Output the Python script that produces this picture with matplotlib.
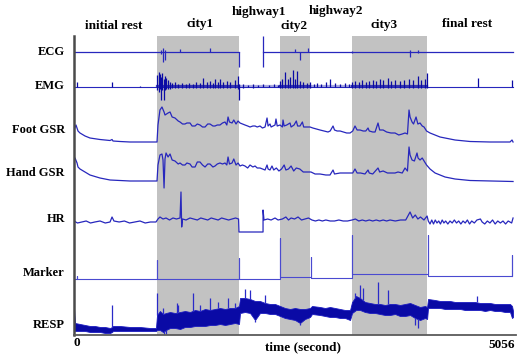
import numpy as np
import matplotlib
matplotlib.use("Agg")
import matplotlib.pyplot as plt

# ---------------- data (time in seconds, amplitudes in arbitrary units) -------------
t_end = 5056
phases = ["initial rest", "city1", "highway1", "city2", "highway2", "city3", "final rest"]
city_spans = [(956, 1900), (2373, 2718), (3202, 4066)]
channels = ["ECG", "EMG", "Foot GSR", "Hand GSR", "HR", "Marker", "RESP"]

# ECG: flat trace (missing between 1900 and 2177) plus spikes (time, low, high)
ecg_segments = [(0, 1900), (2177, 5056)]
ecg_spk_t = [1002, 1025, 1048, 1221, 1566, 1900, 2177, 2545, 2603, 2695, 3202, 3870, 3962]
ecg_spk_lo = [-2, -10, -8, 0, 0, -15, -15, 0, -8, 0, -1, -5, -1]
ecg_spk_hi = [2, 4, 2, 3, 4, 0, 16, 3, 0, 4, 1, 2, 2]

# EMG: baseline plus bursts (time, high, low)
emg_spk_t = [35, 438, 760,
             960, 975, 990, 1002, 1013, 1037, 1048, 1060, 1083, 1106, 1130, 1163, 1200, 1240,
             1290, 1330, 1370, 1410, 1451, 1486, 1530, 1566, 1600, 1624, 1660, 1681, 1720,
             1760, 1800, 1854, 1889, 1900,
             1950, 2000, 2060, 2120, 2180, 2240, 2300, 2350,
             2373, 2400, 2430, 2460, 2488, 2522, 2545, 2568, 2600, 2640, 2680, 2718,
             2760, 2800, 2850, 2900, 2948, 3000, 3060, 3120, 3170,
             3202, 3240, 3280, 3320, 3360, 3400, 3440, 3480, 3520, 3560, 3616, 3650, 3700,
             3750, 3800, 3858, 3900, 3962, 4000, 4042, 4066,
             4653, 5044]
emg_spk_hi = [5, 5, 1,
              12, 15, 13, 10, 14, 8, 11, 9, 7, 5, 4, 5, 3, 4,
              3, 4, 3, 5, 4, 9, 5, 6, 4, 8, 5, 8, 5,
              6, 5, 7, 11, 3,
              3, 2, 3, 2, 3, 2, 3, 2,
              6, 8, 15, 8, 10, 17, 8, 16, 6, 5, 4, 5,
              3, 4, 3, 5, 8, 4, 3, 4, 3,
              5, 6, 5, 7, 5, 6, 7, 6, 8, 7, 9, 6, 7,
              6, 7, 8, 7, 11, 7, 8, 14,
              9, 7]
emg_spk_lo = [0, 0, 0,
              -3, -5, -2, -13, -3, -13, -3, -2, -2, -2, -1, -1, -1, -1,
              -1, -1, -1, -1, -1, -1, -1, -1, -1, -1, -1, -1, -1,
              -1, -1, -1, -2, -13,
              -1, 0, -1, 0, 0, 0, 0, 0,
              -1, -1, -1, -1, -1, -1, -1, -1, -1, -1, -1, -1,
              0, 0, 0, 0, 0, 0, 0, 0, 0,
              -1, -1, -1, -1, -1, -1, -1, -1, -1, -1, -1, -1, -1,
              -1, -1, -1, -1, -1, -1, -1, -1,
              0, 0]

# Foot GSR
foot_t = [0, 23, 46, 69, 127, 184, 299, 415, 438, 449, 530, 645, 760, 944,
          956, 967, 990, 1013, 1037, 1048, 1083, 1106, 1130, 1163, 1200, 1221, 1250, 1278,
          1300, 1336, 1360, 1394, 1420, 1451, 1480, 1509, 1540, 1566, 1600, 1624, 1650,
          1681, 1710, 1739, 1760, 1774, 1790, 1820, 1840, 1866, 1889, 1912, 1940, 1969,
          2000, 2027, 2060, 2085, 2110, 2142, 2170, 2200, 2223, 2235, 2257, 2270, 2315,
          2326, 2340, 2373, 2400, 2407, 2420, 2450, 2488, 2500, 2534, 2560, 2575, 2603,
          2630, 2645, 2680, 2718, 2750, 2790, 2833, 2880, 2925, 2950, 2983, 3000, 3030,
          3064, 3100, 3140, 3179, 3210, 3236, 3260, 3294, 3330, 3360, 3386, 3400, 3440,
          3467, 3501, 3520, 3560, 3600, 3650, 3697, 3740, 3780, 3812, 3840, 3858, 3870,
          3893, 3910, 3939, 3960, 3985, 4010, 4031, 4060, 4100, 4158, 4215, 4273, 4330,
          4388, 4503, 4561, 4791, 5021, 5044, 5056]
foot_v = [15, 20, 14, 12, 9, 7, 5.5, 4.5, 5.5, 4, 3.5, 3, 3, 3,
          3, 20, 35, 38, 33, 30, 32, 33, 28, 27, 24, 23, 21, 21,
          22, 22, 19, 19, 21, 20, 18, 18, 21, 21, 19, 19, 20,
          20, 22, 23, 20, 28, 23, 22, 25, 21, 24, 22, 21, 20,
          19, 18, 19, 19, 18, 19, 17, 18, 27, 19, 21, 18, 20,
          26, 19, 20, 18, 25, 19, 20, 22, 18, 20, 24, 19, 19,
          23, 18, 18, 18, 17, 16, 15, 14, 13, 14, 19, 15, 14,
          14, 13, 12, 12, 14, 19, 15, 15, 14, 14, 17, 14, 13,
          13, 22, 15, 15, 13, 12, 12, 10, 11, 12, 11, 35, 28,
          23, 21, 28, 21, 22, 19, 18, 14, 12, 10, 8, 7, 6,
          5, 4, 3.5, 3, 3, 5, 3]

# Hand GSR
hand_t = [0, 12, 35, 46, 69, 127, 184, 299, 415, 530, 645, 760, 944,
          956, 967, 990, 1013, 1025, 1037, 1048, 1060, 1083, 1106, 1130, 1163, 1200, 1221,
          1250, 1278, 1300, 1336, 1360, 1394, 1420, 1451, 1480, 1509, 1540, 1566, 1600,
          1624, 1650, 1681, 1710, 1739, 1760, 1774, 1790, 1820, 1840, 1866, 1889, 1912,
          1940, 1969, 2000, 2027, 2060, 2085, 2110, 2142, 2170, 2200, 2223, 2235, 2257,
          2280, 2300, 2330, 2360, 2390, 2420, 2440, 2470, 2500, 2530, 2560, 2600, 2640,
          2690, 2729, 2776, 2833, 2900, 2948, 2983, 3000, 3064, 3120, 3179, 3210, 3236,
          3260, 3300, 3351, 3386, 3400, 3440, 3501, 3520, 3560, 3610, 3650, 3697, 3731,
          3780, 3812, 3840, 3858, 3870, 3893, 3920, 3950, 3962, 3985, 4010, 4031, 4060,
          4100, 4158, 4215, 4273, 4330, 4388, 4503, 4561, 4791, 5056]
hand_v = [22, 27, 22, 18, 16, 13, 10, 7, 5, 4.5, 4, 4, 4,
          4, 20, 30, 31, 25, -3, 26, 32, 28, 31, 25, 24, 21, 22,
          20, 20, 22, 21, 18, 18, 23, 23, 20, 18, 21, 21, 18,
          19, 21, 22, 21, 22, 20, 28, 21, 22, 26, 20, 22, 19,
          20, 19, 17, 20, 18, 19, 17, 17, 16, 15, 20, 16, 15,
          19, 15, 17, 14, 16, 20, 15, 16, 19, 14, 17, 16, 13,
          13, 13, 11, 11, 10, 10, 15, 11, 12, 12, 12, 12, 16,
          12, 12, 11, 15, 12, 11, 17, 13, 14, 12, 12, 12, 13,
          12, 17, 14, 38, 30, 25, 24, 32, 27, 25, 27, 24, 20,
          16, 12, 10, 8, 7, 6, 5, 4.5, 4, 3.5]

# HR
hr_t = [0, 40, 90, 140, 190, 240, 300, 360, 415, 438, 460, 520, 580, 640, 700, 760, 820,
        880, 944, 967, 990, 1025, 1060, 1100, 1140, 1180, 1221, 1232, 1240, 1250, 1290,
        1336, 1380, 1420, 1460, 1500, 1540, 1580, 1620, 1660, 1700, 1740, 1780, 1820,
        1860, 1895, 1900, 2177, 2177, 2188, 2230, 2270, 2315, 2350, 2400, 2440, 2470,
        2500, 2540, 2580, 2620, 2660, 2700, 2740, 2780, 2820, 2860, 2900, 2950, 3000,
        3050, 3100, 3150, 3202, 3240, 3280, 3320, 3360, 3400, 3440, 3480, 3520, 3560,
        3600, 3640, 3700, 3760, 3820, 3870, 3900, 3930, 3960, 3990, 4030, 4066, 4080,
        4100, 4120, 4140, 4160, 4180, 4200, 4220, 4240, 4260, 4280, 4305, 4330, 4355,
        4380, 4405, 4430, 4455, 4480, 4505, 4530, 4555, 4580, 4610, 4640, 4680, 4700,
        4730, 4760, 4790, 4820, 4850, 4880, 4910, 4940, 4970, 5000, 5040, 5056]
hr_v = [1, -1, 0, 1, -1, 0, 1, -1, 0, 5, 1, 0, 1, -1, 0, 1, -1,
        0, 0, 3, 5, 3, 4, 2, 4, 3, 4, 30, -5, 3, 2,
        4, 3, 2, 4, 3, 2, 4, 3, 2, 4, 3, 2, 3,
        4, 3, -10, -10, 12, 2, 3, 2, 4, 2, 3, 5, 2,
        4, 3, 5, 2, 3, 4, 2, 1, 2, 1, 2, 1, 1,
        2, 1, 1, 2, 3, 1, 2, 1, 2, 1, 2, 1, 2,
        1, 2, 1, 2, 2, 10, 4, 7, 3, 5, 2, 6, 1,
        -2, 2, -2, 2, -1, 1, -2, 2, -1, 1, -2, 1, -1,
        2, -1, 1, -2, 1, -1, 2, -2, 1, -1, 2, 3, 0,
        -2, 1, -1, 2, -2, 1, -1, 1, -2, 1, -1, 4]

# Marker
marker_t = [0, 35, 35, 35, 956, 956, 956, 1900, 1900, 1900, 2373, 2373, 2373, 2729, 2729,
            2729, 3202, 3202, 3202, 4077, 4077, 4077, 5044, 5044, 5044]
marker_v = [0, 0, 3, 0, 0, 19, 0, 0, 21, 0, 0, 41, 2, 2, 22,
            1, 1, 44, 5, 5, 44, 3, 3, 24, 3]

# RESP: envelope of the respiration trace plus isolated peaks
resp_t = [0, 12, 69, 127, 184, 241, 299, 357, 415, 438, 449, 530, 645, 760, 875, 944,
          956, 990, 1025, 1060, 1106, 1163, 1221, 1278, 1336, 1394, 1451, 1509, 1566, 1624,
          1681, 1739, 1797, 1854, 1900, 1912, 1969, 2027, 2085, 2142, 2200, 2257, 2315,
          2373, 2430, 2488, 2545, 2603, 2660, 2718, 2741, 2833, 2891, 2948, 3006, 3064,
          3121, 3179, 3202, 3248, 3294, 3351, 3409, 3467, 3524, 3582, 3639, 3697, 3754,
          3812, 3870, 3927, 3985, 4042, 4066, 4077, 4158, 4215, 4273, 4330, 4388, 4446,
          4503, 4561, 4618, 4676, 4733, 4791, 4848, 4906, 4963, 5021, 5044, 5056]
resp_hi = [27, 12, 11, 10, 9, 9, 8, 8, 7, 8, 9, 9, 8, 8, 7, 7,
           20, 24, 21, 22, 23, 22, 23, 24, 23, 25, 24, 26, 25, 26,
           27, 26, 27, 27, 29, 37, 37, 36, 34, 34, 32, 31, 31,
           29, 27, 26, 27, 26, 26, 27, 29, 28, 27, 28, 27, 26,
           25, 25, 33, 39, 37, 33, 32, 31, 31, 30, 31, 31, 30,
           31, 32, 30, 28, 29, 28, 36, 35, 34, 34, 34, 33, 33,
           33, 33, 33, 32, 32, 32, 31, 31, 31, 31, 29, 24]
resp_lo = [5, 4, 4, 4, 3, 3, 3, 2, 2, 3, 4, 4, 4, 4, 4, 4,
           5, 5, 3, 5, 7, 7, 6, 8, 8, 9, 9, 9, 10, 10,
           11, 10, 11, 12, 11, 22, 23, 22, 15, 22, 22, 21, 21,
           19, 17, 16, 15, 12, 16, 18, 21, 20, 19, 18, 18, 17,
           17, 15, 22, 25, 25, 23, 22, 22, 21, 20, 20, 21, 19,
           19, 20, 17, 15, 17, 16, 27, 27, 27, 26, 26, 26, 26,
           25, 25, 25, 25, 24, 25, 24, 24, 23, 23, 17, 18]
resp_pk_t = [438, 956, 1025, 1186, 1200, 1371, 1451, 1566, 1658, 1774, 1854, 1969, 2027,
             2200, 3236, 3294, 3328, 3501, 3616, 4641]
resp_pk_v = [30, 42, 27, 32, 30, 42, 30, 37, 33, 37, 32, 46, 45,
             40, 42, 50, 47, 53, 45, 39]
resp_dip_t = [1037, 1060, 2085, 2603, 3930, 3962]
resp_dip_v = [0, 1, 13, 10, 10, 7]

# ---------------- layout / style ----------------
W, H = 523, 357
fig = plt.figure(figsize=(W / 100, H / 100), dpi=100)
ax = fig.add_axes([74 / W, 1 - 335 / H, (516 - 74) / W, (335 - 36) / H])
ax.set_xlim(0, 5090)
ax.set_ylim(0, 299)
base = {"ECG": 283, "EMG": 248, "Foot GSR": 190, "Hand GSR": 150, "HR": 113,
        "Marker": 56, "RESP": 0}
line_c = "#2727bd"
dark_c = "#0a0aa5"

for a, b in city_spans:
    ax.axvspan(a, b, color="#c2c2c2", lw=0, zorder=0)

# ECG
for a, b in ecg_segments:
    ax.plot([a, b], [base["ECG"]] * 2, color=line_c, lw=0.9, zorder=2)
ax.vlines(ecg_spk_t, base["ECG"] + np.array(ecg_spk_lo), base["ECG"] + np.array(ecg_spk_hi),
          color=line_c, lw=0.9, zorder=2)

# EMG
ax.plot([0, t_end], [base["EMG"]] * 2, color=line_c, lw=0.8, zorder=2)
ax.vlines(emg_spk_t, base["EMG"] + np.array(emg_spk_lo), base["EMG"] + np.array(emg_spk_hi),
          color=dark_c, lw=0.9, zorder=2)
for a, b in city_spans + [(1900, 2373), (2718, 3202)]:
    ax.plot([a, b], [base["EMG"] + 0.8] * 2, color=dark_c, lw=1.6, zorder=2,
            alpha=0.75 if (a, b) in city_spans else 0.35)

# GSR
ax.plot(foot_t, base["Foot GSR"] + np.array(foot_v), color=line_c, lw=0.9, zorder=2)
ax.plot(hand_t, base["Hand GSR"] + np.array(hand_v), color=line_c, lw=0.9, zorder=2)

# HR
ax.plot(hr_t, base["HR"] + np.array(hr_v), color=line_c, lw=0.9, zorder=2)

# Marker
ax.plot(marker_t, base["Marker"] + np.array(marker_v), color="#4a4ad0", lw=0.8, zorder=2)

# RESP
ax.fill_between(resp_t, base["RESP"] + np.array(resp_lo), base["RESP"] + np.array(resp_hi),
                color=dark_c, lw=0.6, edgecolor="#1b1bc0", zorder=2)
hi_at_pk = np.interp(resp_pk_t, resp_t, resp_hi)
ax.vlines(resp_pk_t, base["RESP"] + hi_at_pk, base["RESP"] + np.array(resp_pk_v),
          color="#2a2ac8", lw=0.9, zorder=2)
lo_at_dip = np.interp(resp_dip_t, resp_t, resp_lo)
ax.vlines(resp_dip_t, base["RESP"] + np.array(resp_dip_v), base["RESP"] + lo_at_dip,
          color="#2a2ac8", lw=0.9, zorder=2)

# axes look
for s in ["top", "right"]:
    ax.spines[s].set_visible(False)
ax.spines["left"].set_color("#4a4a4a")
ax.spines["left"].set_linewidth(1.8)
ax.spines["bottom"].set_color("#5a5a5a")
ax.spines["bottom"].set_linewidth(1.3)
ax.set_xticks([])
ax.set_yticks([])

font = dict(family="Liberation Serif", fontweight="bold")
# phase labels
phase_pos = [(114, 26), (200, 24), (259, 12), (294, 26), (336, 11), (384, 25), (467, 24)]
for name, (px, py) in zip(phases, phase_pos):
    fig.text(px / W, 1 - py / H, name, ha="center", va="center", fontsize=9.5, **font)
# channel labels
chan_y = [52, 86, 130, 173, 219, 273, 325]
for name, py in zip(channels, chan_y):
    fig.text(65 / W, 1 - py / H, name, ha="right", va="center", fontsize=9, **font)
fig.text(77 / W, 1 - 343 / H, "0", ha="center", va="center", fontsize=9.5, **font)
fig.text(303 / W, 1 - 347 / H, "time (second)", ha="center", va="center", fontsize=9.5, **font)
fig.text(502 / W, 1 - 345 / H, str(t_end), ha="center", va="center", fontsize=9.5, **font)

fig.savefig("out.png", dpi=100)
